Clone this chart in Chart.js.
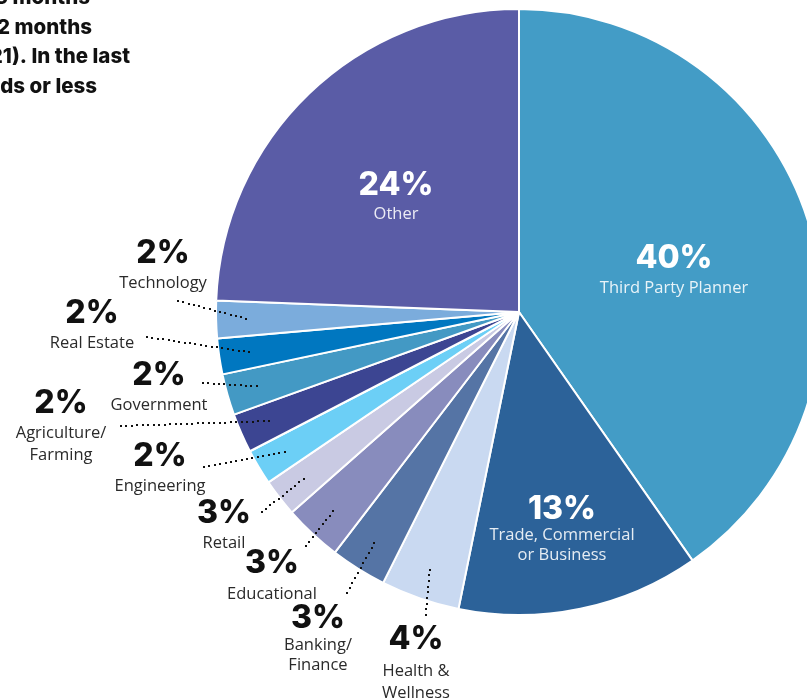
<!DOCTYPE html>
<html>
<head>
<meta charset="utf-8">
<script src="https://cdn.jsdelivr.net/npm/chart.js@4/dist/chart.umd.min.js"></script>
<style>
html,body{margin:0;padding:0;background:#fff;overflow:hidden;width:807px;height:698px;}
#wrap{position:absolute;left:0;top:0;width:840px;height:698px;}
</style>
</head>
<body>
<div id="wrap"><canvas id="c" width="840" height="698"></canvas></div>
<script>
// ---- data ----
const categories = ["Third Party Planner","Trade, Commercial or Business","Health & Wellness","Banking/Finance","Educational","Retail","Engineering","Agriculture/Farming","Government","Real Estate","Technology","Other"];
// printed percentages
const percentLabels = ["40%","13%","4%","3%","3%","3%","2%","2%","2%","2%","2%","24%"];
// slice sizes as drawn in the picture (percent of the circle)
const sliceValues = [40.3, 12.9, 4.2, 3.0, 3.1, 2.0, 1.9, 2.1, 2.2, 1.9, 2.0, 24.4];
const labelLines = [["Third Party Planner"],["Trade, Commercial","or Business"],["Health &","Wellness"],["Banking/","Finance"],["Educational"],["Retail"],["Engineering"],["Agriculture/","Farming"],["Government"],["Real Estate"],["Technology"],["Other"]];
const introLines = ["the past 6 months","past 12 months","(2021). In the last","thousands or less"];

// ---- styles / layout ----
const colors = ["#439cc6","#2c6299","#c9d9f1","#5574a5","#888cbd","#c9cae3","#6ccff6","#3c4592","#4399c4","#0077c0","#7bacdc","#5a5ca6"];
const labelLayout = [
  {inside:true, x:674, y:268, gap:25},
  {inside:true, x:562, y:519, gap:21, lg:20},
  {x:416, y:649, leader:[426,615], gap:27, lg:22},
  {x:318, y:628, leader:[347,593], gap:22, lg:20},
  {x:272, y:573, leader:[306,546], gap:26},
  {x:224, y:523, leader:[262,512], gap:25},
  {x:160, y:466, leader:[204,467], gap:25},
  {x:61, y:413, leader:[121,426], gap:25, lg:22},
  {x:159, y:385, leader:[203,383], gap:25},
  {x:92, y:323, leader:[147,337], gap:25},
  {x:163, y:263, leader:[178,301], gap:25},
  {inside:true, x:396, y:195, gap:24}
];

const numFont = "800 32px Inter, 'DejaVu Sans', sans-serif";
const nameFont = "400 16.5px 'Open Sans', 'DejaVu Sans', sans-serif";
const introFont = "800 20.5px Inter, 'DejaVu Sans', sans-serif";

const labelPlugin = {
  id:'labels',
  afterDatasetsDraw(chart){
    const ctx = chart.ctx;
    const meta = chart.getDatasetMeta(0);
    ctx.save();
    meta.data.forEach((arc,i)=>{
      const L = labelLayout[i];
      const p = arc.getProps(['x','y','startAngle','endAngle','outerRadius']);
      if(L.leader){
        const mid = (p.startAngle+p.endAngle)/2;
        const ex = p.x + Math.cos(mid)*p.outerRadius*0.9;
        const ey = p.y + Math.sin(mid)*p.outerRadius*0.9;
        const sx = L.leader[0], sy = L.leader[1];
        const len = Math.hypot(ex-sx, ey-sy);
        const n = Math.max(1, Math.round(len/5.5));
        ctx.fillStyle = "#111";
        for(let k=0;k<=n;k++){
          const t=k/n;
          ctx.fillRect(Math.round(sx+(ex-sx)*t)-1, Math.round(sy+(ey-sy)*t)-1, 2, 2);
        }
      }
      ctx.textAlign = 'center';
      ctx.textBaseline = 'alphabetic';
      ctx.fillStyle = L.inside ? "#ffffff" : "#111111";
      ctx.font = numFont;
      ctx.fillText(percentLabels[i], L.x, L.y);
      ctx.font = nameFont;
      ctx.fillStyle = L.inside ? "rgba(255,255,255,0.88)" : "#2a2a2a";
      labelLines[i].forEach((ln,j)=>{
        ctx.fillText(ln, L.x, L.y + L.gap + j*(L.lg||20));
      });
    });
    ctx.font = introFont;
    ctx.fillStyle = "#111";
    ctx.textAlign = 'right';
    const ends = [90,92,130,97];
    introLines.forEach((t,i)=>{ ctx.fillText(t, ends[i], 4 + i*29.5); });
    ctx.restore();
  }
};

new Chart(document.getElementById('c'), {
  type:'pie',
  data:{ labels:categories, datasets:[{ data:sliceValues, backgroundColor:colors, borderColor:'#ffffff', borderWidth:2, hoverOffset:0 }]},
  options:{
    responsive:false, animation:false,
    layout:{ padding:{left:215, right:17, top:8, bottom:82} },
    plugins:{ legend:{display:false}, tooltip:{enabled:false} }
  },
  plugins:[labelPlugin]
});
</script>
</body>
</html>
